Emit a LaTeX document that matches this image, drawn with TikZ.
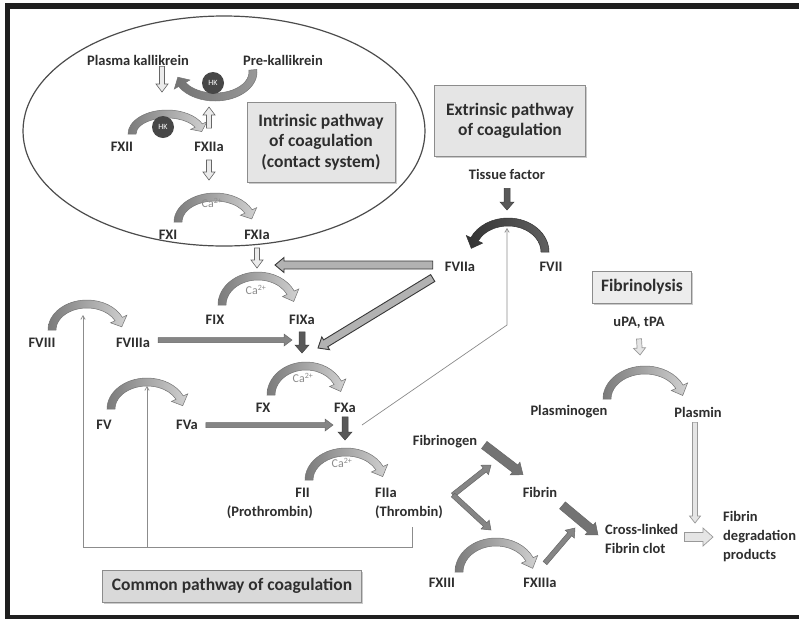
\documentclass[tikz,border=0pt]{standalone}
\usepackage{fontspec}
\setmainfont{Carlito}
\usetikzlibrary{arrows}
\usetikzlibrary{calc, shadows}

\tikzset{
  lbl/.style={font=\bfseries\fontsize{14.5}{17}\selectfont, text=black!82, inner sep=1pt},
  cal/.style={font=\fontsize{12}{14}\selectfont, text=black!45, inner sep=0pt},
  titlebox/.style={draw=black!45, fill=black!10, line width=0.8pt, align=center,
    font=\bfseries\fontsize{17.5}{20.5}\selectfont, text=black!82,
    drop shadow={shadow xshift=1.5pt, shadow yshift=-1.5pt, fill=black!40, opacity=0.5}},
  hk/.style={circle, fill=black!72, inner sep=0pt, minimum size=22pt, text=white, font=\fontsize{8}{8}\selectfont},
  bent/.style={draw=black!55, line width=0.5pt, left color=black!52, right color=black!18},
  darkbent/.style={left color=black!80, right color=black!62, draw=black!80},
  hkbent/.style={left color=black!55, right color=black!40},
  openarr/.style={draw=black!60, fill=black!8, line width=0.6pt},
  outarr/.style={draw=black!78, fill=black!30, line width=0.9pt},
  midarr/.style={draw=black!60, fill=black!48, line width=0.5pt},
  darkarr/.style={draw=black!75, fill=black!65, line width=0.5pt},
  lightarr/.style={draw=black!40, fill=black!10, line width=0.7pt},
  fback/.style={draw=black!45, line width=0.7pt, ->},
}

% straight block arrow: from, to, shaft half width, head half width, head length
\newcommand\blockarrow[6][]{%
  \path[#1] let \p1=(#2), \p2=(#3), \n1={atan2(\y2-\y1,\x2-\x1)}, \n2={veclen(\x2-\x1,\y2-\y1)} in
    [shift={(\p1)}, rotate=\n1] (0pt,#4pt) -- (\n2-#6pt,#4pt) -- (\n2-#6pt,#5pt) -- (\n2+0pt,0pt)
    -- (\n2-#6pt,-#5pt) -- (\n2-#6pt,-#4pt) -- (0pt,-#4pt) -- cycle;}

% bent block arrow: centre, x radius, y radius, start angle, end angle
\newcommand\bentarrow[6][]{%
  \pgfmathsetmacro\tipang{#6>#5 ? #6+18 : #6-18}%
  \pgfmathsetmacro\rxo{#3+4}\pgfmathsetmacro\ryo{#4+4}%
  \pgfmathsetmacro\rxi{#3-4}\pgfmathsetmacro\ryi{#4-4}%
  \pgfmathsetmacro\rxh{#3+9}\pgfmathsetmacro\ryh{#4+9}%
  \pgfmathsetmacro\rxl{#3-9}\pgfmathsetmacro\ryl{#4-9}%
  \path[bent,#1] ($(#2)+({#5}:{\rxo} and {\ryo})$) arc[start angle=#5, end angle=#6, x radius=\rxo, y radius=\ryo]
    -- ($(#2)+({#6}:{\rxh} and {\ryh})$) -- ($(#2)+({\tipang}:{#3} and {#4})$) -- ($(#2)+({#6}:{\rxl} and {\ryl})$)
    -- ($(#2)+({#6}:{\rxi} and {\ryi})$) arc[start angle=#6, end angle=#5, x radius=\rxi, y radius=\ryi] -- cycle;}

\begin{document}
\begin{tikzpicture}[x=1pt, y=-1pt, >=angle 60]
\useasboundingbox (0,0) rectangle (799,619);

% frame
\fill[white] (0,0) rectangle (799,619);
\fill[black!88] (5,3) rectangle (799,619);
\fill[white] (10,9) rectangle (799,615);

% contact system
\draw[black!70, line width=1.2pt] (224,131) ellipse [x radius=201, y radius=115];
\bentarrow[hkbent]{215,72}{38}{25}{-5}{150}
\bentarrow{167,134}{35}{20}{180}{335}
\bentarrow{215,222}{37}{25}{180}{335}
\node[hk] (hka) at (213,83) {HK};
\node[hk] (hkb) at (163,127) {HK};
\node[lbl] (kal) at (138,60) {Plasma kallikrein};
\node[lbl] (prekal) at (283,60) {Pre-kallikrein};
\node[lbl] (fxii) at (122,147) {FXII};
\node[lbl] (fxiia) at (209,147) {FXIIa};
\node[cal] (ca1) at (212,203) {Ca\textsuperscript{2+}};
\node[lbl] (fxi) at (168,235) {FXI};
\node[lbl] (fxia) at (257,235) {FXIa};
\node[titlebox, minimum width=148pt, minimum height=80pt] (intr) at (321,142) {Intrinsic pathway\\of coagulation\\(contact system)};

\coordinate (k2) at (162,92);
\coordinate (x2) at (209,107);
\coordinate (x4) at (209,180);
\coordinate (x6) at (257,268);
\blockarrow[openarr]{[xshift=24pt]kal.south}{k2}{2.5}{6}{8}
\blockarrow[openarr]{[yshift=13pt]fxiia.north}{x2}{2.5}{6}{8}
\blockarrow[openarr]{[yshift=-7pt]fxiia.south}{x4}{2.5}{6}{8}
\blockarrow[openarr]{[yshift=-7pt]fxia.south}{x6}{2.5}{6}{8}

% extrinsic
\node[titlebox, minimum width=151pt, minimum height=71pt] (extr) at (510,121) {Extrinsic pathway\\of coagulation};
\node[lbl] (tf) at (507,174) {Tissue factor};
\bentarrow[darkbent]{508,252}{37}{30}{0}{-155}
\node[lbl] (fviia) at (460,267) {FVIIa};
\node[lbl] (fvii) at (551,267) {FVII};
\coordinate (e7) at (507,210);
\blockarrow[darkarr]{[yshift=-8pt]tf.south}{e7}{3}{7}{8}

% tenase and prothrombinase
\bentarrow{258,305}{36}{29}{180}{335}
\bentarrow{87,330}{35}{26}{180}{335}
\bentarrow{306,395}{35}{29}{180}{335}
\bentarrow{147,409}{36}{27}{180}{335}
\bentarrow{346,480}{37}{28}{180}{335}
\node[cal] (ca2) at (256,290) {Ca\textsuperscript{2+}};
\node[cal] (ca3) at (303,378) {Ca\textsuperscript{2+}};
\node[cal] (ca4) at (342,463) {Ca\textsuperscript{2+}};
\node[lbl] (fix) at (215,320) {FIX};
\node[lbl] (fixa) at (302,320) {FIXa};
\node[lbl] (fviii) at (42,343) {FVIII};
\node[lbl] (fviiia) at (133,343) {FVIIIa};
\node[lbl] (fx) at (263,408) {FX};
\node[lbl] (fxa) at (345,408) {FXa};
\node[lbl] (fv) at (104,425) {FV};
\node[lbl] (fva) at (187,425) {FVa};
\node[lbl, anchor=east] (fii) at (311,493) {FII};
\node[lbl, anchor=east] (prot) at (314,512) {(Prothrombin)};
\node[lbl, anchor=west] (fiia) at (374,493) {FIIa};
\node[lbl, anchor=west] (thr) at (374,512) {(Thrombin)};

\coordinate (e1) at (275,265);
\coordinate (e2) at (318,348);
\coordinate (e3) at (292,340);
\coordinate (e4) at (333,425);
\coordinate (e5) at (302,353);
\coordinate (e6) at (345,440);
\blockarrow[outarr]{[shift={(-11pt,2pt)}]fviia.west}{e1}{4}{7.5}{9}
\blockarrow[outarr]{[shift={(-11pt,-11pt)}]fviia.west}{e2}{4}{7.5}{9}
\blockarrow[midarr]{[shift={(7pt,3pt)}]fviiia.east}{e3}{2.5}{6}{8}
\blockarrow[midarr]{[xshift=7pt]fva.east}{e4}{2.5}{6}{8}
\blockarrow[darkarr]{[yshift=-6pt]fixa.south}{e5}{3}{7}{8}
\blockarrow[darkarr]{[yshift=-3pt]fxa.south}{e6}{3}{7}{8}

% feedback
\coordinate (xfb) at (362,425);
\coordinate (fbk) at (507,325);
\coordinate (fb7) at (507,228);
\coordinate (thrb) at (412,527);
\coordinate (cbase) at (147,547);
\coordinate (fb8) at (83,315);
\coordinate (fb5) at (147,386);
\draw[fback] (xfb) -- (fbk) -- (fb7);
\draw[fback] (thrb) |- (cbase) -| (fb8);
\draw[fback] (cbase) -- (fb5);
\node[titlebox, fill=black!15, minimum width=259pt, minimum height=32pt] (comm) at (232,586) {Common pathway of coagulation};

% fibrin
\bentarrow{496,572}{37}{30}{180}{335}
\node[lbl] (fgn) at (445,442) {Fibrinogen};
\node[lbl] (fbn) at (540,492) {Fibrin};
\node[lbl] (fxiii) at (442,583) {FXIII};
\node[lbl] (fxiiia) at (540,583) {FXIIIa};
\node[lbl, anchor=west, align=left, font=\bfseries\fontsize{14.5}{18.5}\selectfont] (clot) at (604,539) {Cross-linked\\Fibrin clot};
\node[lbl, anchor=west, align=left, font=\bfseries\fontsize{14.5}{19}\selectfont] (fdp) at (722,537) {Fibrin\\degradation\\products};
\coordinate (thb) at (453,495);
\coordinate (b1) at (491,465);
\coordinate (b2) at (491,530);
\coordinate (c3) at (575,528);
\blockarrow[midarr]{thb}{b1}{2.5}{6}{8}
\blockarrow[midarr]{thb}{b2}{2.5}{6}{8}
\blockarrow[midarr, fill=black!55]{[shift={(6pt,-3pt)}]fgn.east}{[shift={(-17pt,11pt)}]fbn.north}{4.5}{8}{10}
\blockarrow[midarr, fill=black!55]{[shift={(4pt,-7pt)}]fbn.south east}{[shift={(-6pt,4pt)}]clot.west}{4.5}{8}{10}
\blockarrow[midarr]{[shift={(5pt,14pt)}]fxiiia.north}{c3}{2.5}{6}{8}
\blockarrow[lightarr]{[shift={(5pt,2pt)}]clot.east}{[xshift=-9pt]fdp.west}{4.5}{9}{10}

% fibrinolysis
\node[titlebox, fill=black!7, minimum width=99pt, minimum height=32pt] (fibl) at (642,287) {Fibrinolysis};
\node[lbl] (upa) at (639,323) {uPA, tPA};
\bentarrow{645,399}{38}{29}{180}{335}
\node[lbl] (plg) at (569,412) {Plasminogen};
\node[lbl] (pln) at (698,412) {Plasmin};
\coordinate (e9) at (640,355);
\coordinate (e8) at (695,523);
\blockarrow[lightarr]{[yshift=-9pt]upa.south}{e9}{2.5}{6}{7}
\blockarrow[lightarr]{[shift={(-3pt,-4pt)}]pln.south}{e8}{2.5}{5.5}{7}

\end{tikzpicture}
\end{document}
